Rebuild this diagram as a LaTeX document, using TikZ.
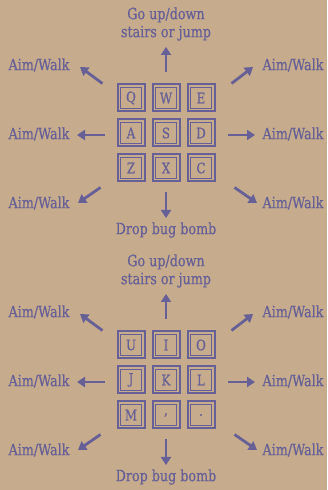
\documentclass[tikz,border=0pt]{standalone}
\usepackage{fontspec}
\newfontfamily\padfont[FakeStretch=0.82,FakeBold=0.6]{DejaVu Serif}
\usepackage{tikz}
\usetikzlibrary{arrows.meta,positioning}
\definecolor{PaperTan}{RGB}{198,172,141}
\definecolor{InkPurple}{RGB}{103,96,150}
\tikzset{
  padkey/.style ={rectangle, draw=InkPurple, line width=2pt, minimum size=27pt,
                  inner sep=0pt, text=InkPurple, font=\padfont\fontsize{14.5}{16}\selectfont,
                  path picture={\draw[InkPurple,line width=.6pt]
                    ([shift={(3pt,3pt)}]path picture bounding box.south west) rectangle
                    ([shift={(-3pt,-3pt)}]path picture bounding box.north east);}},
  lbl/.style    ={text=InkPurple, align=center, inner sep=1pt,
                  font=\padfont\fontsize{15.5}{18}\selectfont},
  arr/.style    ={-{Triangle[length=8pt,width=10pt]}, draw=InkPurple, line width=2.8pt},
}
% one keypad with its eight labels
\newcommand\drawpad[9]{%
  \node[padkey] (k1) at (131,392) {#1};
  \node[padkey,right=of k1] (k2) {#2};
  \node[padkey,right=of k2] (k3) {#3};
  \node[padkey,below=of k1] (k4) {#4};
  \node[padkey,right=of k4] (k5) {#5};
  \node[padkey,right=of k5] (k6) {#6};
  \node[padkey,below=of k4] (k7) {#7};
  \node[padkey,right=of k7] (k8) {#8};
  \node[padkey,right=of k8] (k9) {#9};

  \node[lbl] (up) at (166,466) {Go up/down\\stairs or jump};
  \node[lbl] (tl) at (39,425)  {Aim/Walk};
  \node[lbl] (tr) at (293,425) {Aim/Walk};
  \node[lbl] (ml) at (39,356)  {Aim/Walk};
  \node[lbl] (mr) at (293,356) {Aim/Walk};
  \node[lbl] (bl) at (39,287)  {Aim/Walk};
  \node[lbl] (br) at (293,287) {Aim/Walk};
  \node[lbl] (dn) at (166,260) {Drop bug bomb};

  \draw[arr] ([yshift=11pt]k2.north) -- ([yshift=-23pt]up.center);
  \draw[arr] ([shift={(-14,0)}]k1.north west) -- ([shift={(41,-2)}]tl.center);
  \draw[arr] ([shift={(16,0)}]k3.north east) -- ([shift={(-40,-2)}]tr.center);
  \draw[arr] ([shift={(-12,-2)}]k4.west) -- ([shift={(38,-1)}]ml.center);
  \draw[arr] ([shift={(12,-2)}]k6.east) -- ([shift={(-38,-1)}]mr.center);
  \draw[arr] ([shift={(-16,-5)}]k7.south west) -- ([shift={(39,0)}]bl.center);
  \draw[arr] ([shift={(19,-5)}]k9.south east) -- ([shift={(-36,0)}]br.center);
  \draw[arr] ([yshift=-10pt]k8.south) -- ([yshift=12pt]dn.center);
}

\begin{document}
\begin{tikzpicture}[x=1pt,y=1pt,node distance=6pt]
  \fill[PaperTan] (0,0) rectangle (327,490);

  \begin{scope}[name prefix=top-]
    \drawpad{Q}{W}{E}{A}{S}{D}{Z}{X}{C}
  \end{scope}
  \begin{scope}[yshift=-247pt,name prefix=bot-]
    \drawpad{U}{I}{O}{J}{K}{L}{M}{,}{.}
  \end{scope}
\end{tikzpicture}
\end{document}
